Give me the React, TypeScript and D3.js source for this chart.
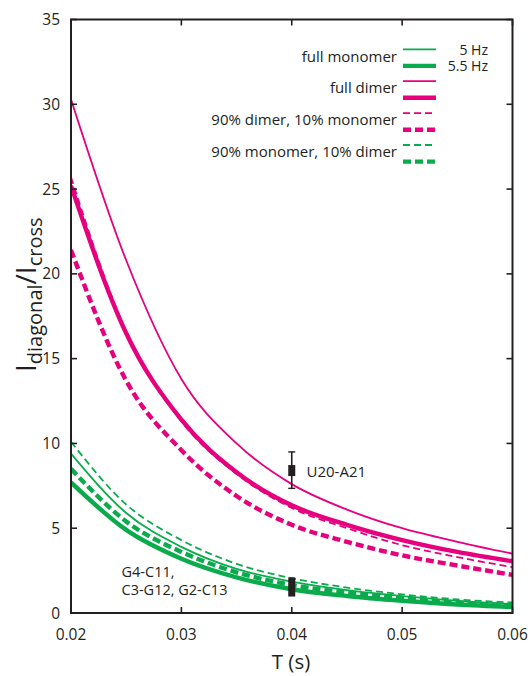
import React from "react";
import * as d3 from "d3";

// ---- data ----
const T = [0.02, 0.025, 0.03, 0.035, 0.04, 0.045, 0.05, 0.055, 0.06];
const dimer5 = [30.3, 20.8, 13.8, 10.0, 7.6, 6.1, 5.0, 4.2, 3.5];
const dimer55 = [25.2, 16.5, 11.4, 8.3, 6.35, 5.2, 4.3, 3.6, 3.05];
const d90_5 = [25.7, 16.6, 11.3, 8.2, 6.2, 5.0, 4.0, 3.3, 2.7];
const d90_55 = [21.4, 13.7, 9.6, 6.9, 5.2, 4.2, 3.4, 2.8, 2.25];
const mono5 = [9.4, 5.9, 3.9, 2.6, 1.85, 1.35, 1.0, 0.72, 0.52];
const mono55 = [7.7, 4.9, 3.2, 2.1, 1.4, 1.0, 0.72, 0.5, 0.35];
const m90_5 = [10.1, 6.4, 4.3, 2.9, 2.05, 1.5, 1.1, 0.8, 0.62];
const m90_55 = [8.5, 5.4, 3.6, 2.4, 1.65, 1.2, 0.88, 0.62, 0.45];

const xTicks = [0.02, 0.03, 0.04, 0.05, 0.06];
const yTicks = [0, 5, 10, 15, 20, 25, 30, 35];

const legendLabels = ["full monomer", "full dimer", "90% dimer, 10% monomer", "90% monomer, 10% dimer"];
const freqLabels = ["5 Hz", "5.5 Hz"];

// experimental points
const u20 = { t: 0.04, v: 8.4, lo: 7.35, hi: 9.5, label: "U20-A21" };
const g4 = { t: 0.04, v: 1.55, lo: 0.97, hi: 2.1, label: ["G4-C11,", "C3-G12, G2-C13"] };

const MAG = "#E6007E";
const GRN = "#0AAB4C";
const INK = "#231F20";
const FONT = "'Open Sans', sans-serif";

const THIN = 1.8;
const THICK = 4.4;
const DASH_THIN = "7,4";
const DASH_THICK = "8,4";

const series = [
  { data: dimer5, color: MAG, w: THIN, dash: null },
  { data: dimer55, color: MAG, w: THICK, dash: null },
  { data: d90_5, color: MAG, w: THIN, dash: DASH_THIN },
  { data: d90_55, color: MAG, w: THICK, dash: DASH_THICK },
  { data: mono55, color: GRN, w: THICK, dash: null },
  { data: m90_55, color: GRN, w: THICK, dash: DASH_THICK },
  { data: mono5, color: GRN, w: THIN, dash: null },
  { data: m90_5, color: GRN, w: THIN, dash: DASH_THIN },
];

const legendStyles = [
  { color: GRN, dash: null },
  { color: MAG, dash: null },
  { color: MAG, dash: DASH_THIN },
  { color: GRN, dash: DASH_THIN },
];

export default function App() {
  const W = 532, H = 676;
  const L = 71, R = 512.5, TOP = 19.5, B = 613;
  const x = d3.scaleLinear().domain([0.02, 0.06]).range([L, R]);
  const y = d3.scaleLinear().domain([0, 35]).range([B, TOP]);
  const line = d3
    .line<number>()
    .x((_, i) => x(T[i]))
    .y((d) => y(d))
    .curve(d3.curveMonotoneX);
  const tick = 6;

  const legX0 = 403, legX1 = 436, legTextX = 397;
  const legTop = 49.3, legStep = 31.9, pairGap = 16.6;

  return (
    <svg width={W} height={H} style={{ position: "absolute", left: 0, top: 0 }} fontFamily={FONT}>
      <rect width={W} height={H} fill="#fff" />
      <defs>
        <clipPath id="plot">
          <rect x={L} y={TOP} width={R - L} height={B - TOP} />
        </clipPath>
      </defs>
      <g clipPath="url(#plot)">
        {series.map((s, i) => (
          <path
            key={i}
            d={line(s.data) || ""}
            fill="none"
            stroke={s.color}
            strokeWidth={s.w}
            strokeDasharray={s.dash || undefined}
          />
        ))}
      </g>

      {/* frame */}
      <rect x={L} y={TOP} width={R - L} height={B - TOP} fill="none" stroke={INK} strokeWidth={2} />
      {xTicks.map((t) => (
        <g key={"xt" + t}>
          <line x1={x(t)} x2={x(t)} y1={B} y2={B - tick} stroke={INK} strokeWidth={1.6} />
          <line x1={x(t)} x2={x(t)} y1={TOP} y2={TOP + tick} stroke={INK} strokeWidth={1.6} />
          <text x={x(t)} y={639.5} textAnchor="middle" fontSize={15.5} fill={INK}>
            {d3.format(".2f")(t)}
          </text>
        </g>
      ))}
      {yTicks.map((v) => (
        <g key={"yt" + v}>
          <line x1={L} x2={L + tick} y1={y(v)} y2={y(v)} stroke={INK} strokeWidth={1.6} />
          <line x1={R} x2={R - tick} y1={y(v)} y2={y(v)} stroke={INK} strokeWidth={1.6} />
          <text x={60} y={y(v)} dy="0.36em" textAnchor="end" fontSize={15.5} fill={INK}>
            {v}
          </text>
        </g>
      ))}

      {/* axis titles */}
      <text x={291} y={669} textAnchor="middle" fontSize={20.5} fill={INK}>
        T (s)
      </text>
      <text transform="translate(36,372) rotate(-90)" fontSize={28} fill={INK}>
        I
        <tspan fontSize={20} dy={6}>diagonal</tspan>
        <tspan fontSize={28} dy={-6}>/I</tspan>
        <tspan fontSize={20} dy={6}>cross</tspan>
      </text>

      {/* legend */}
      {legendLabels.map((lab, i) => {
        const y1 = legTop + i * legStep;
        const st = legendStyles[i];
        return (
          <g key={"lg" + i}>
            <text x={legTextX} y={y1 + 12.2} textAnchor="end" fontSize={15} fill={INK}>
              {lab}
            </text>
            <line x1={legX0} x2={legX1} y1={y1} y2={y1} stroke={st.color} strokeWidth={THIN}
              strokeDasharray={st.dash ? DASH_THIN : undefined} />
            <line x1={legX0} x2={legX1} y1={y1 + pairGap} y2={y1 + pairGap} stroke={st.color} strokeWidth={THICK}
              strokeDasharray={st.dash ? DASH_THICK : undefined} />
          </g>
        );
      })}
      {freqLabels.map((f, i) => (
        <text key={f} x={488} y={55 + i * 15.5} textAnchor="end" fontSize={14} fill={INK}>
          {f}
        </text>
      ))}

      {/* experimental points */}
      <g>
        <line x1={x(u20.t)} x2={x(u20.t)} y1={y(u20.lo)} y2={y(u20.hi)} stroke={INK} strokeWidth={1.6} />
        <line x1={x(u20.t) - 3.5} x2={x(u20.t) + 3.5} y1={y(u20.lo)} y2={y(u20.lo)} stroke={INK} strokeWidth={1.4} />
        <line x1={x(u20.t) - 3.5} x2={x(u20.t) + 3.5} y1={y(u20.hi)} y2={y(u20.hi)} stroke={INK} strokeWidth={1.4} />
        <rect x={x(u20.t) - 3.5} y={y(u20.v) - 5.5} width={7} height={11} fill={INK} />
        <text x={306.5} y={477} fontSize={15} fill={INK}>{u20.label}</text>
      </g>
      <g>
        <rect x={x(g4.t) - 3.5} y={y(g4.hi)} width={7} height={y(g4.lo) - y(g4.hi)} fill={INK} />
        {g4.label.map((s, i) => (
          <text key={s} x={121.5} y={577 + i * 18} fontSize={14.5} fill={INK}>{s}</text>
        ))}
      </g>
    </svg>
  );
}
